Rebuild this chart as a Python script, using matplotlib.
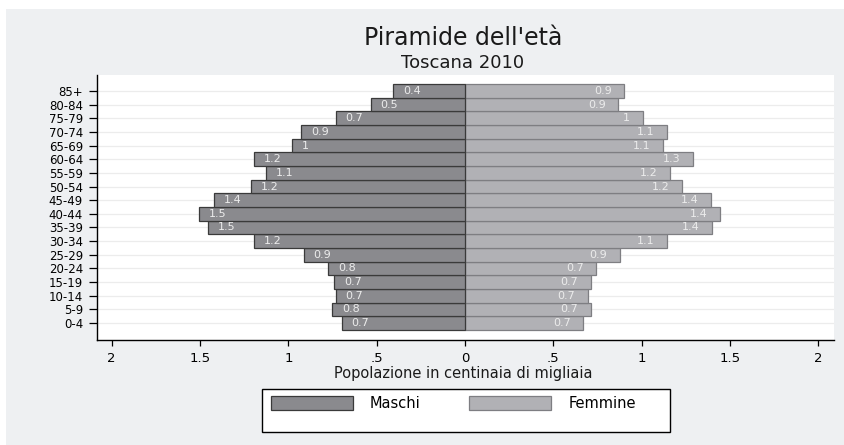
import matplotlib
matplotlib.use("Agg")
import matplotlib.pyplot as plt
from matplotlib.patches import Rectangle

# ---- data ----
age_groups = ["0-4", "5-9", "10-14", "15-19", "20-24", "25-29", "30-34", "35-39",
              "40-44", "45-49", "50-54", "55-59", "60-64", "65-69", "70-74",
              "75-79", "80-84", "85+"]
maschi = [0.698, 0.752, 0.732, 0.741, 0.775, 0.913, 1.194, 1.453, 1.505, 1.419,
          1.213, 1.126, 1.194, 0.981, 0.928, 0.732, 0.534, 0.406]
femmine = [0.670, 0.711, 0.694, 0.711, 0.743, 0.875, 1.143, 1.400, 1.443, 1.390,
           1.226, 1.158, 1.288, 1.122, 1.143, 1.005, 0.868, 0.900]
x_ticks = [-2, -1.5, -1, -0.5, 0, 0.5, 1, 1.5, 2]
x_tick_labels = ["2", "1.5", "1", ".5", "0", ".5", "1", "1.5", "2"]
series_names = ["Maschi", "Femmine"]


def fmt(v):
    s = f"{v:.1f}"
    return s[:-2] if s.endswith(".0") else s


W, H = 845, 445
fig = plt.figure(figsize=(W / 100, H / 100), dpi=100)
fig.patch.set_facecolor("white")
panel_color = "#eef0f2"
fig.patches.append(Rectangle((6 / W, 0), 1, 1 - 9 / H, transform=fig.transFigure,
                             facecolor=panel_color, edgecolor="none", zorder=-10))

ax = fig.add_axes([97 / W, 1 - 340 / H, (834 - 97) / W, (340 - 75) / H])
ax.set_facecolor("white")

y = list(range(len(age_groups)))
male_col, male_edge = "#8a8a8e", "#3a3a3a"
fem_col, fem_edge = "#b1b1b5", "#7e7e82"

for yy in y:
    ax.axhline(yy, color="#ececec", lw=0.9, zorder=0)

neg_m = [-v for v in maschi]
bf = ax.barh(y, femmine, height=1.0, color=fem_col, edgecolor=fem_edge, lw=0.9, zorder=2)
bm = ax.barh(y, neg_m, height=1.0, color=male_col, edgecolor=male_edge, lw=0.9, zorder=3)

lab_col = "#ececec"
for yy, v in zip(y, maschi):
    ax.annotate(fmt(v), xy=(-v, yy), xytext=(7, 0), textcoords="offset points",
                ha="left", va="center", fontsize=8, color=lab_col, zorder=5)
for yy, v in zip(y, femmine):
    ax.annotate(fmt(v), xy=(v, yy), xytext=(-9, 0), textcoords="offset points",
                ha="right", va="center", fontsize=8, color=lab_col, zorder=5)

ax.set_xlim(-2.083, 2.088)
ax.set_ylim(-1.245, 18.17)
ax.set_xticks(x_ticks)
ax.set_xticklabels(x_tick_labels, fontsize=9.5)
ax.set_yticks(y)
ax.set_yticklabels(age_groups, fontsize=8.5)
ax.tick_params(axis="x", length=4, width=0.9, pad=5, colors="black")
ax.tick_params(axis="y", length=6, width=0.9, pad=4, colors="black")
for s in ["top", "right"]:
    ax.spines[s].set_visible(False)
for s in ["left", "bottom"]:
    ax.spines[s].set_linewidth(1.0)
    ax.spines[s].set_color("black")

cx = 463 / W
fig.text(cx, 1 - 45 / H, "Piramide dell'età", ha="center", va="baseline",
         fontsize=17, color="#1a1a1a")
fig.text(cx, 1 - 68.3 / H, "Toscana 2010", ha="center", va="baseline",
         fontsize=13, color="#1a1a1a")
fig.text(cx, 1 - 377.7 / H, "Popolazione in centinaia di migliaia", ha="center",
         va="baseline", fontsize=10.5, color="#1a1a1a")

# legend
fig.patches.append(Rectangle((261.7 / W, 1 - 432.3 / H), (670 - 261.7) / W, 43 / H,
                             transform=fig.transFigure, facecolor="white",
                             edgecolor="black", lw=1.0, zorder=1))
fs = 10.5
fpx = fs * 100 / 72
leg = fig.legend([bm, bf], series_names, ncol=2, loc="upper left",
                 bbox_to_anchor=(270.7 / W, 1 - 395.5 / H), frameon=False,
                 borderpad=0, borderaxespad=0, fontsize=fs,
                 handlelength=82 / fpx, handleheight=16 / fpx,
                 handletextpad=17 / fpx, columnspacing=3.35)
leg.set_zorder(2)

fig.savefig("out.png", dpi=100, facecolor=fig.get_facecolor())
